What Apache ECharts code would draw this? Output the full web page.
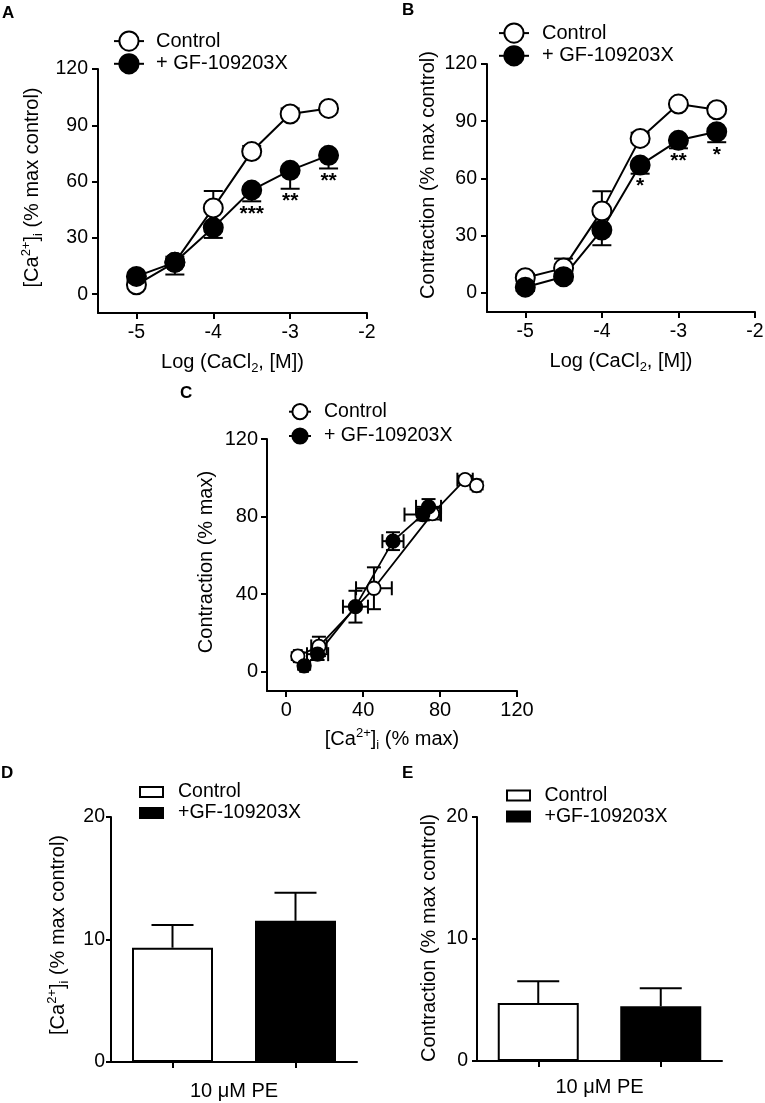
<!DOCTYPE html>
<html>
<head>
<meta charset="utf-8">
<script src="https://cdn.jsdelivr.net/npm/echarts@6/dist/echarts.min.js"></script>
<style>html,body{margin:0;padding:0;background:#fff}#c{width:765px;height:1103px}</style>
</head>
<body>
<div id="c"></div>
<script>
const FONT = '"Liberation Sans", Arial, Helvetica, sans-serif';

// ---------- Panel A / B: concentration-response ----------
const xLog = [-5, -4.5, -4, -3.5, -3, -2.5];
const xLogTicks = [-5, -4, -3, -2];
const yTicksAB = [0, 30, 60, 90, 120];
const caCtrl = [5, 17, 46, 76, 96, 99];
const caCtrlErr = [2, 3, 9, 3, 3, 2];
const caGF = [9.5, 17, 35.5, 55.5, 66, 74];
const caGFErr = [2, 6.5, 5.5, 6, 9.8, 7];
const caSig = ['', '', '', '***', '**', '**'];
const conCtrl = [8, 13, 43, 81, 99, 96];
const conCtrlErr = [2, 5, 10.3, 3, 2, 2];
const conGF = [3, 8.5, 33, 67, 80, 84.5];
const conGFErr = [2, 2, 8, 4.5, 4.2, 5.5];
const conSig = ['', '', '', '*', '**', '*'];

// ---------- Panel C: contraction vs [Ca2+]i ----------
const ticksC = [0, 40, 80, 120];
const cCtrlX = [6, 17, 45.6, 76, 93, 99];
const cCtrlXErr = [2, 4, 9.3, 4, 4, 2];
const cCtrlY = [8, 13, 43, 81.5, 99, 96];
const cCtrlYErr = [2, 5, 10.8, 3, 2, 2];
const cGFX = [9.3, 16.3, 36, 55.5, 71, 74];
const cGFXErr = [2, 5.5, 6.5, 5.5, 9.5, 6.5];
const cGFY = [3, 9, 33.5, 67.3, 81, 85];
const cGFYErr = [2, 3, 8.2, 4.6, 3, 4];

// ---------- Panels D / E: 10 uM PE ----------
const barCats = ['Control', '+GF-109203X'];
const peCa = [9.33, 11.53];
const peCaErr = [1.85, 2.28];
const peCon = [4.75, 4.48];
const peConErr = [1.78, 1.48];

const ctrlName = 'Control';
const gfName = '+ GF-109203X';

const rich = {
  sup: {fontSize: 13, verticalAlign: 'top', color: '#000', fontFamily: FONT},
  sub: {fontSize: 13, verticalAlign: 'bottom', color: '#000', fontFamily: FONT}
};
function nameStyle(fs, padL) {
  return {color: '#000', fontSize: fs, fontFamily: FONT, lineHeight: 25, rich: rich,
    padding: [0, 0, 0, padL || 0]};
}

function valAxis(gi, min, max, ticks, name, gap, fs, margin, tickLen, padL) {
  return {
    type: 'value', gridIndex: gi, min: min, max: max,
    axisLine: {show: true, onZero: false, lineStyle: {color: '#000', width: 2}},
    axisTick: {show: true, length: tickLen, customValues: ticks, lineStyle: {color: '#000', width: 2}},
    axisLabel: {customValues: ticks, color: '#000', fontSize: fs, fontFamily: FONT, margin: margin},
    splitLine: {show: false},
    name: name, nameLocation: 'middle', nameGap: gap, nameTextStyle: nameStyle(20, padL)
  };
}
function barYAxis(gi, name, gap, margin, padL) {
  return {
    type: 'value', gridIndex: gi, min: 0, max: 20, interval: 10,
    axisLine: {show: true, lineStyle: {color: '#000', width: 2}},
    axisTick: {show: true, length: 5, lineStyle: {color: '#000', width: 2}},
    axisLabel: {color: '#000', fontSize: 19.5, fontFamily: FONT, margin: margin},
    splitLine: {show: false},
    name: name, nameLocation: 'middle', nameGap: gap, nameTextStyle: nameStyle(20, padL)
  };
}
function barXAxis(gi, gap) {
  return {
    type: 'category', gridIndex: gi, data: barCats,
    axisLine: {show: true, lineStyle: {color: '#000', width: 2}},
    axisTick: {show: true, alignWithLabel: true, length: 6, lineStyle: {color: '#000', width: 2}},
    axisLabel: {show: false},
    name: '10 μM PE', nameLocation: 'middle', nameGap: gap, nameTextStyle: nameStyle(20)
  };
}

function lineSeries(gi, name, xs, ys, filled, size, bw) {
  return {
    type: 'line', name: name, xAxisIndex: gi, yAxisIndex: gi, z: 3,
    data: xs.map((x, i) => [x, ys[i]]),
    symbol: 'circle', symbolSize: size,
    lineStyle: {color: '#000', width: bw},
    itemStyle: {color: filled ? '#000' : '#fff', borderColor: '#000', borderWidth: bw},
    emphasis: {disabled: true}
  };
}

function txt(x, y, s) {
  return {type: 'text', x: x, y: y, style: {text: s, fill: '#000', font: 'bold 21px ' + FONT,
    align: 'center', verticalAlign: 'top', textAlign: 'center', textVerticalAlign: 'top'}};
}

function vErrSeries(gi, xs, ys, errs, dir, capW, lw, sig) {
  return {
    type: 'custom', xAxisIndex: gi, yAxisIndex: gi, z: 2, silent: true,
    data: xs.map((x, i) => [x, ys[i], errs[i]]),
    encode: {x: 0, y: 1},
    renderItem: function (params, api) {
      const x = api.value(0), y = api.value(1), e = api.value(2);
      const p0 = api.coord([x, y]);
      const p1 = api.coord([x, y + dir * e]);
      const st = {stroke: '#000', lineWidth: lw};
      const ch = [
        {type: 'line', shape: {x1: p0[0], y1: p0[1], x2: p1[0], y2: p1[1]}, style: st},
        {type: 'line', shape: {x1: p1[0] - capW / 2, y1: p1[1], x2: p1[0] + capW / 2, y2: p1[1]}, style: st}
      ];
      if (sig && sig[params.dataIndex]) ch.push(txt(p1[0], p1[1] + 2, sig[params.dataIndex]));
      return {type: 'group', children: ch};
    }
  };
}

function xyErrSeries(gi, xs, xe, ys, ye, capW, lw) {
  return {
    type: 'custom', xAxisIndex: gi, yAxisIndex: gi, z: 2, silent: true,
    data: xs.map((x, i) => [x, ys[i], xe[i], ye[i]]),
    encode: {x: 0, y: 1},
    renderItem: function (params, api) {
      const x = api.value(0), y = api.value(1), ex = api.value(2), ey = api.value(3);
      const t = api.coord([x, y + ey]), b = api.coord([x, y - ey]);
      const l = api.coord([x - ex, y]), r = api.coord([x + ex, y]);
      const st = {stroke: '#000', lineWidth: lw};
      const h = capW / 2;
      return {type: 'group', children: [
        {type: 'line', shape: {x1: t[0], y1: t[1], x2: b[0], y2: b[1]}, style: st},
        {type: 'line', shape: {x1: t[0] - h, y1: t[1], x2: t[0] + h, y2: t[1]}, style: st},
        {type: 'line', shape: {x1: b[0] - h, y1: b[1], x2: b[0] + h, y2: b[1]}, style: st},
        {type: 'line', shape: {x1: l[0], y1: l[1], x2: r[0], y2: r[1]}, style: st},
        {type: 'line', shape: {x1: l[0], y1: l[1] - h, x2: l[0], y2: l[1] + h}, style: st},
        {type: 'line', shape: {x1: r[0], y1: r[1] - h, x2: r[0], y2: r[1] + h}, style: st}
      ]};
    }
  };
}

function barErrSeries(gi, vals, errs, capW, lw) {
  return {
    type: 'custom', xAxisIndex: gi, yAxisIndex: gi, z: 3, silent: true,
    data: vals.map((v, i) => [i, v, errs[i]]),
    encode: {x: 0, y: 1},
    renderItem: function (params, api) {
      const i = api.value(0), v = api.value(1), e = api.value(2);
      const p0 = api.coord([i, v]), p1 = api.coord([i, v + e]);
      const st = {stroke: '#000', lineWidth: lw};
      return {type: 'group', children: [
        {type: 'line', shape: {x1: p0[0], y1: p0[1], x2: p1[0], y2: p1[1]}, style: st},
        {type: 'line', shape: {x1: p1[0] - capW / 2, y1: p1[1], x2: p1[0] + capW / 2, y2: p1[1]}, style: st}
      ]};
    }
  };
}

function lineLegend(left, top, iw, ih, gap, pad, fs) {
  return {
    orient: 'vertical', left: left, top: top, padding: 0, itemWidth: iw, itemHeight: ih, itemGap: gap,
    selectedMode: false,
    data: [
      {name: ctrlName, itemStyle: {color: '#fff', borderColor: '#000', borderWidth: 2}},
      {name: gfName, itemStyle: {color: '#000', borderColor: '#000', borderWidth: 2}}
    ],
    lineStyle: {color: '#000', width: 2},
    textStyle: {fontSize: fs, color: '#000', fontFamily: FONT, lineHeight: 20, padding: [0, 0, 0, pad]}
  };
}
function barLegend(left, top, gap, pad) {
  return {
    orient: 'vertical', left: left, top: top, padding: 0, itemWidth: 23, itemHeight: 10, itemGap: gap,
    selectedMode: false,
    data: [
      {name: 'Control', icon: 'rect', itemStyle: {color: '#fff', borderColor: '#000', borderWidth: 2}},
      {name: '+GF-109203X', icon: 'rect', itemStyle: {color: '#000', borderColor: '#000', borderWidth: 2}}
    ],
    textStyle: {fontSize: 19.5, color: '#000', fontFamily: FONT, lineHeight: 20, padding: [0, 0, 0, pad]}
  };
}

const letter = (t, left, top) => ({text: t, left: left, top: top, padding: 0,
  textStyle: {fontSize: 17, fontWeight: 'bold', color: '#000', fontFamily: FONT}});

const option = {
  animation: false,
  backgroundColor: '#fff',
  textStyle: {fontFamily: FONT},
  title: [letter('A', 2, 5), letter('B', 402, 2), letter('C', 180, 385), letter('D', 1, 765), letter('E', 402, 765)],
  legend: [
    lineLegend(113, 30.5, 30, 24, 1.5, 7, 20),
    lineLegend(498, 22.5, 30, 24, 1.5, 8, 20),
    lineLegend(288, 401.7, 22, 19, 4.3, 8, 19.5),
    barLegend(139, 782, 1, 10),
    barLegend(506, 785.5, 1, 9.5)
  ],
  grid: [
    {left: 98, top: 69, width: 269, height: 244, containLabel: false, outerBoundsMode: 'none'},
    {left: 487, top: 64, width: 268, height: 248, containLabel: false, outerBoundsMode: 'none'},
    {left: 267, top: 439, width: 250, height: 252, containLabel: false, outerBoundsMode: 'none'},
    {left: 111, top: 817, width: 246, height: 245, containLabel: false, outerBoundsMode: 'none'},
    {left: 477, top: 817, width: 245, height: 244, containLabel: false, outerBoundsMode: 'none'}
  ],
  xAxis: [
    valAxis(0, -5.5, -2, xLogTicks, 'Log (CaCl{sub|2}, [M])', 37, 19.5, 10, 6, 0),
    valAxis(1, -5.5, -2, xLogTicks, 'Log (CaCl{sub|2}, [M])', 37, 19.5, 10, 6, 0),
    valAxis(2, -10, 120, ticksC, '[Ca{sup|2+}]{sub|i} (% max)', 36, 20, 9, 6, 0),
    barXAxis(3, 17),
    barXAxis(4, 14)
  ],
  yAxis: [
    valAxis(0, -10, 120, yTicksAB, '[Ca{sup|2+}]{sub|i} (% max control)', 53, 19.5, 10, 6, 7),
    valAxis(1, -10, 120, yTicksAB, 'Contraction (% max control)', 42, 19.5, 10, 6, 26),
    valAxis(2, -10, 120, ticksC, 'Contraction (% max)', 48, 20, 9, 6, 6),
    barYAxis(3, '[Ca{sup|2+}]{sub|i} (% max control)', 40, 6, 9),
    barYAxis(4, 'Contraction (% max control)', 32, 9, 2)
  ],
  series: [
    // A
    vErrSeries(0, xLog, caCtrl, caCtrlErr, 1, 19, 2, null),
    vErrSeries(0, xLog, caGF, caGFErr, -1, 19, 2, caSig),
    lineSeries(0, ctrlName, xLog, caCtrl, false, 19, 2),
    lineSeries(0, gfName, xLog, caGF, true, 19, 2),
    // B
    vErrSeries(1, xLog, conCtrl, conCtrlErr, 1, 19, 2, null),
    vErrSeries(1, xLog, conGF, conGFErr, -1, 19, 2, conSig),
    lineSeries(1, ctrlName, xLog, conCtrl, false, 19, 2),
    lineSeries(1, gfName, xLog, conGF, true, 19, 2),
    // C
    xyErrSeries(2, cCtrlX, cCtrlXErr, cCtrlY, cCtrlYErr, 14, 2),
    xyErrSeries(2, cGFX, cGFXErr, cGFY, cGFYErr, 14, 2),
    lineSeries(2, ctrlName, cCtrlX, cCtrlY, false, 13.5, 1.8),
    lineSeries(2, gfName, cGFX, cGFY, true, 13.5, 1.8),
    // D
    {type: 'bar', name: 'Control', xAxisIndex: 3, yAxisIndex: 3, barWidth: 81, barGap: '-100%',
      data: [peCa[0], '-'], itemStyle: {color: '#fff', borderColor: '#000', borderWidth: 2}, emphasis: {disabled: true}},
    {type: 'bar', name: '+GF-109203X', xAxisIndex: 3, yAxisIndex: 3, barWidth: 81, barGap: '-100%',
      data: ['-', peCa[1]], itemStyle: {color: '#000', borderColor: '#000', borderWidth: 2}, emphasis: {disabled: true}},
    barErrSeries(3, peCa, peCaErr, 42, 2),
    // E
    {type: 'bar', name: 'Control', xAxisIndex: 4, yAxisIndex: 4, barWidth: 81, barGap: '-100%',
      data: [peCon[0], '-'], itemStyle: {color: '#fff', borderColor: '#000', borderWidth: 2}, emphasis: {disabled: true}},
    {type: 'bar', name: '+GF-109203X', xAxisIndex: 4, yAxisIndex: 4, barWidth: 81, barGap: '-100%',
      data: ['-', peCon[1]], itemStyle: {color: '#000', borderColor: '#000', borderWidth: 2}, emphasis: {disabled: true}},
    barErrSeries(4, peCon, peConErr, 42, 2)
  ]
};

const chart = echarts.init(document.getElementById('c'), null, {renderer: 'canvas'});
chart.setOption(option);
</script>
</body>
</html>
